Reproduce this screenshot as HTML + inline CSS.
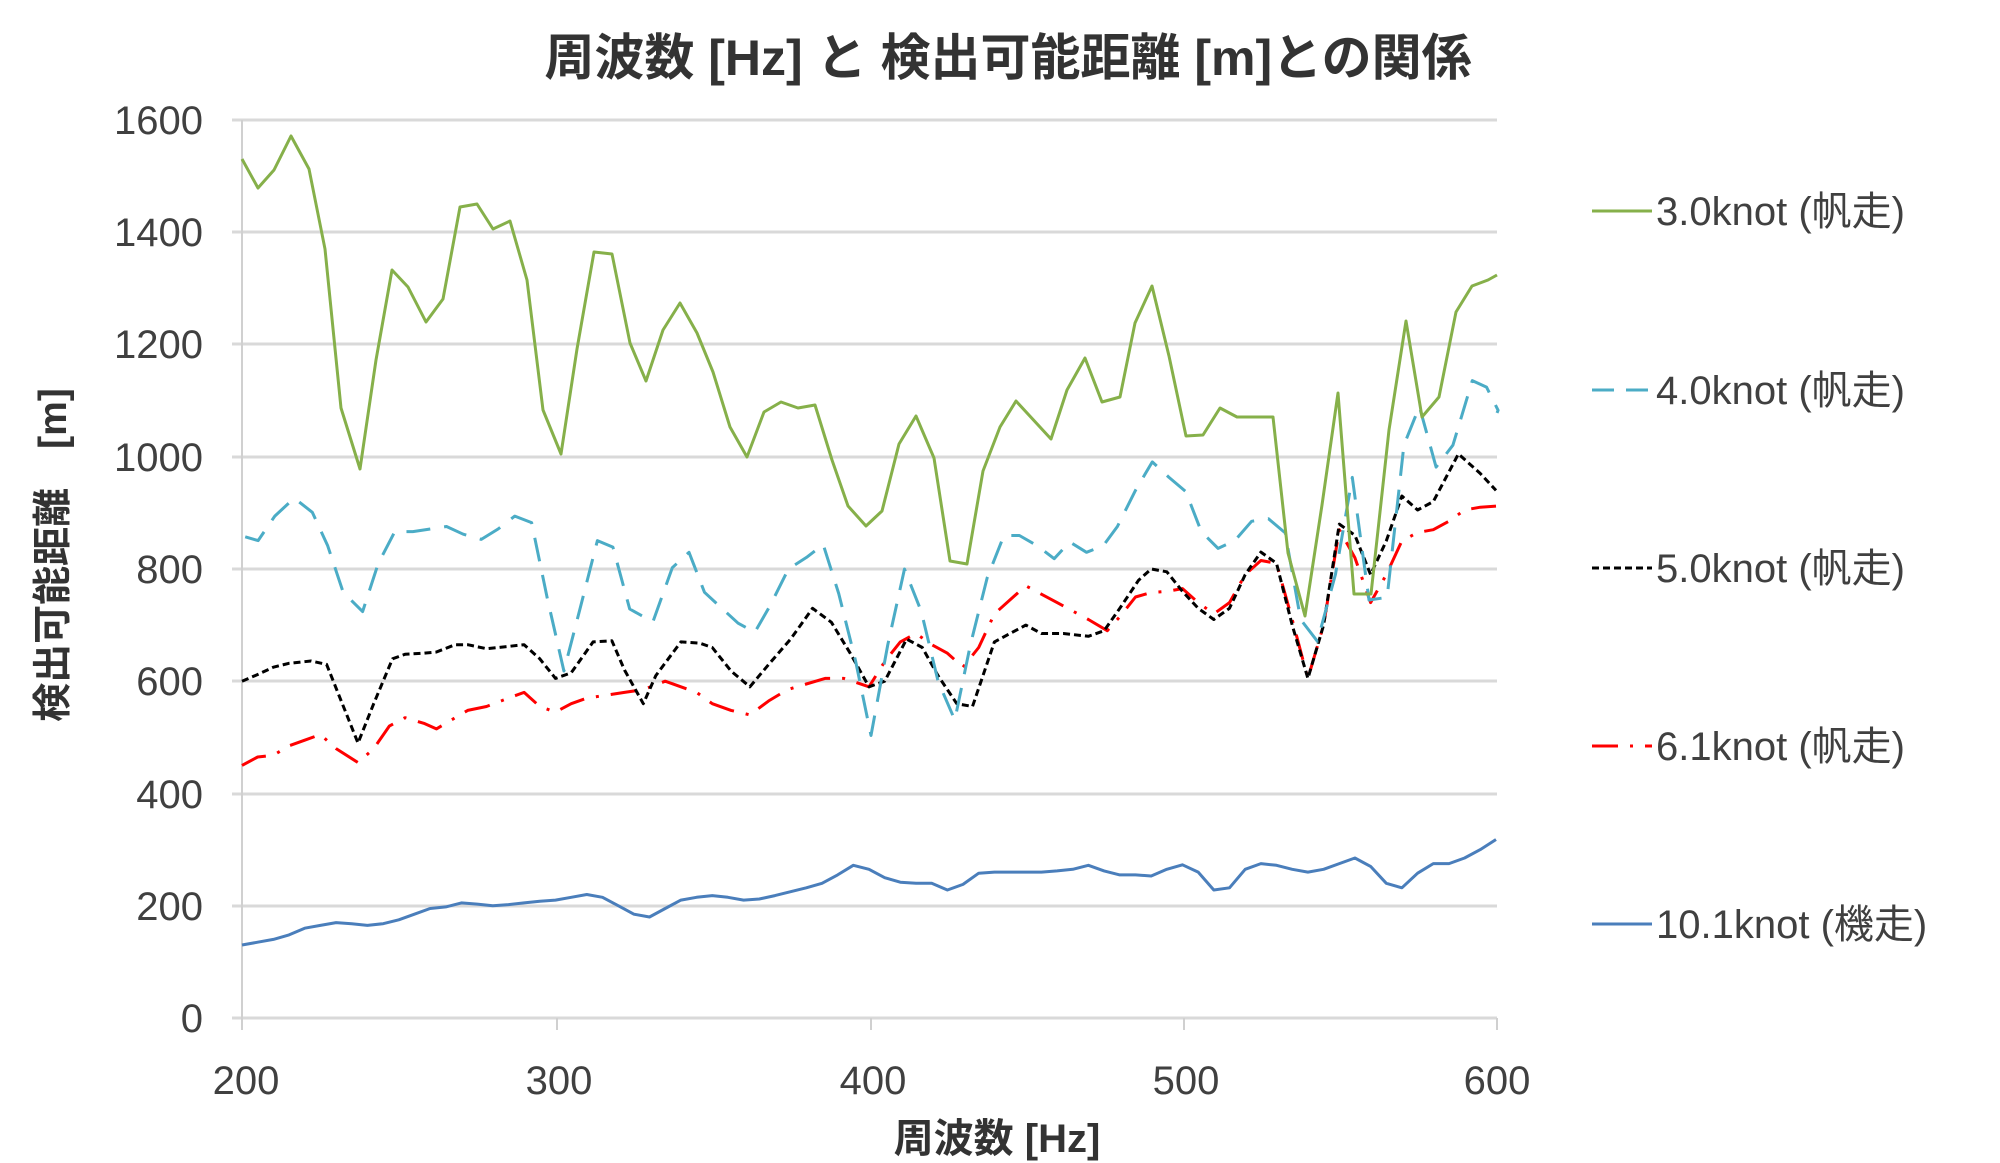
<!DOCTYPE html>
<html><head><meta charset="utf-8"><style>
html,body{margin:0;padding:0;background:#fff;}
svg{display:block;}
text{font-family:"Liberation Sans","Noto Sans CJK JP",sans-serif;}
</style></head><body>
<svg id="c" width="2000" height="1163" viewBox="0 0 2000 1163" xmlns="http://www.w3.org/2000/svg">
<g stroke="#d9d9d9" stroke-width="3">
<line x1="232" y1="120" x2="1497" y2="120"/>
<line x1="232" y1="232" x2="1497" y2="232"/>
<line x1="232" y1="344" x2="1497" y2="344"/>
<line x1="232" y1="457" x2="1497" y2="457"/>
<line x1="232" y1="569" x2="1497" y2="569"/>
<line x1="232" y1="681" x2="1497" y2="681"/>
<line x1="232" y1="794" x2="1497" y2="794"/>
<line x1="232" y1="906" x2="1497" y2="906"/>
<line x1="232" y1="1018" x2="1497" y2="1018"/>
</g>
<g stroke="#d0d0d0" stroke-width="2">
<line x1="242" y1="120" x2="242" y2="1030"/>
<line x1="557" y1="1018" x2="557" y2="1030"/>
<line x1="871" y1="1018" x2="871" y2="1030"/>
<line x1="1184" y1="1018" x2="1184" y2="1030"/>
<line x1="1497" y1="1018" x2="1497" y2="1030"/>
</g>
<g font-size="40" fill="#404040" text-anchor="end">
<text x="203" y="134">1600</text><text x="203" y="246">1400</text><text x="203" y="358">1200</text>
<text x="203" y="471">1000</text><text x="203" y="583">800</text><text x="203" y="695">600</text>
<text x="203" y="808">400</text><text x="203" y="920">200</text><text x="203" y="1032">0</text>
</g>
<g font-size="40" fill="#404040" text-anchor="middle">
<text x="246" y="1094">200</text><text x="559" y="1094">300</text><text x="873" y="1094">400</text>
<text x="1186" y="1094">500</text><text x="1497" y="1094">600</text>
</g>
<text x="1008" y="75" font-size="50" font-weight="bold" fill="#333" text-anchor="middle">周波数 [Hz] と 検出可能距離 [m]との関係</text>
<text x="997" y="1152" font-size="40" font-weight="bold" fill="#333" text-anchor="middle">周波数 [Hz]</text>
<text transform="translate(66,555) rotate(-90)" font-size="39" font-weight="bold" fill="#333" text-anchor="middle">検出可能距離　[m]</text>
<g id="series" fill="none" stroke-width="3" stroke-linejoin="round"></g>
<g font-size="40" fill="#404040">
<line x1="1592" y1="211" x2="1652" y2="211" stroke="#86b04a" stroke-width="3"/>
<text x="1656" y="225">3.0knot (帆走)</text>
<line x1="1592" y1="390" x2="1652" y2="390" stroke="#4bacc6" stroke-width="3" stroke-dasharray="22,12"/>
<text x="1656" y="404">4.0knot (帆走)</text>
<line x1="1592" y1="568" x2="1652" y2="568" stroke="#000" stroke-width="3" stroke-dasharray="7,4"/>
<text x="1656" y="582">5.0knot (帆走)</text>
<line x1="1592" y1="746" x2="1652" y2="746" stroke="#ff0000" stroke-width="3" stroke-dasharray="26,12,3,12"/>
<text x="1656" y="760">6.1knot (帆走)</text>
<line x1="1592" y1="924" x2="1652" y2="924" stroke="#4a7ebb" stroke-width="3"/>
<text x="1656" y="938">10.1knot (機走)</text>
</g>
</svg>
<script>
(function(){
var X=function(f){return 242+(f-200)*3.135;},Y=function(v){return 1018-v*0.5613;};
var green=[242,159,258,188,274,170,291,136,309,169,325,249,341,408,360,469,376,360,392,270,408,287,426,322,443,299,460,207,477,204,493,229,510,221,527,280,543,410,561,454,577,349,594,252,612,254,630,343,646,381,663,330,680,303,697,333,713,372,730,427,747,457,764,412,781,402,798,408,815,405,832,460,848,506,866,526,882,511,899,444,916,416,934,458,950,561,967,564,983,471,1000,427,1016,401,1051,439,1067,390,1085,358,1102,402,1120,397,1135,323,1152,286,1169,356,1186,436,1203,435,1220,408,1237,417,1273,417,1288,553,1305,616,1322,505,1338,393,1354,594,1371,594,1389,430,1406,321,1422,417,1439,397,1456,312,1472,286,1488,280,1497,275];
var cyanD=[190,416,200,419,213,400,228,386,242,397,254,423,266,459,281,474,293,437,306,412,320,412,346,408,359,414,373,418,386,410,399,400,412,405,424,463,437,520,450,470,463,419,475,424,488,472,506,482,521,440,534,428,546,459,560,472,572,483,585,490,597,469,611,441,625,432,638,422,650,460,663,512,675,570,688,500,701,441,714,474,727,528,740,558,752,500,765,448,778,415,790,415,804,423,817,433,829,420,842,428,855,423,866,408,880,380,893,358,906,370,919,381,931,412,944,425,957,419,970,404,983,402,996,413,1008,480,1021,497,1035,445,1048,370,1061,465,1075,463,1088,345,1100,315,1113,362,1126,345,1141,295,1152,300,1161,318,1160.2,320];
var cyan=cyanD.map(function(v){return v*2000/1550;});
var black=[200,600,205,612,210,625,215,632,222,636,227,630,232,560,237,490,242,560,248,640,252,648,258,650,262,652,268,665,272,665,278,658,285,662,290,665,295,640,300,605,305,615,312,670,318,672,322,620,328,560,332,610,340,670,346,668,350,660,356,618,362,590,368,630,375,675,382,730,388,705,394,650,400,590,405,600,412,675,417,660,422,610,428,560,433,555,440,670,445,685,450,700,455,685,462,685,470,680,475,690,480,730,486,780,490,800,495,795,500,760,505,730,510,710,515,730,520,790,525,830,530,810,535,700,540,605,545,700,550,880,555,860,560,790,565,850,570,930,575,905,580,920,588,1005,595,970,600,940];
var red=[200,450,205,465,210,468,215,485,220,495,225,505,230,480,237,455,242,480,247,520,252,535,258,525,262,515,268,535,272,548,278,555,285,570,290,580,295,555,300,545,305,560,310,570,316,575,322,580,328,585,335,600,340,590,345,580,350,560,356,548,362,540,368,565,374,585,380,595,386,605,392,605,400,590,405,635,410,670,415,685,420,665,425,650,430,625,435,660,440,720,446,750,450,770,455,755,460,740,465,725,470,710,476,690,480,715,485,750,490,758,495,760,500,765,505,740,510,720,515,740,520,790,525,815,530,810,535,710,540,605,545,700,550,870,555,820,560,740,565,790,570,850,575,865,580,870,585,885,590,905,595,910,600,912];
var blue=[200,130,205,135,210,140,215,148,220,160,225,165,230,170,235,168,240,165,245,168,250,175,255,185,260,195,265,198,270,205,275,203,280,200,285,202,290,205,295,208,300,210,305,215,310,220,315,215,320,200,325,185,330,180,335,195,340,210,345,215,350,218,355,215,360,210,365,212,370,218,375,225,380,232,385,240,390,255,395,272,400,265,405,250,410,242,415,240,420,240,425,228,430,238,435,258,440,260,445,260,450,260,455,260,460,262,465,265,470,272,475,262,480,255,485,255,490,253,495,265,500,273,505,260,510,228,515,232,520,265,525,275,530,272,535,265,540,260,545,265,550,275,555,285,560,270,565,240,570,232,575,258,580,275,585,275,590,285,595,300,600,318];
function px(a){var s=[];for(var i=0;i<a.length;i+=2)s.push(a[i].toFixed(1)+','+a[i+1].toFixed(1));return s.join(' ');}
function vx(a){var b=[];for(var i=0;i<a.length;i+=2){b.push(X(a[i]),Y(a[i+1]));}return b;}
var g=document.getElementById('series'),ns='http://www.w3.org/2000/svg';
function add(pts,col,dash){var p=document.createElementNS(ns,'polyline');p.setAttribute('points',px(pts));p.setAttribute('stroke',col);if(dash)p.setAttribute('stroke-dasharray',dash);g.appendChild(p);}
add(vx(blue),'#4a7ebb');
add(vx(red),'#ff0000','26,12,3,12');
add(vx(black),'#000','7,4');
add(cyan,'#4bacc6','24,14');
add(green,'#86b04a');
})();
</script>
</body></html>
